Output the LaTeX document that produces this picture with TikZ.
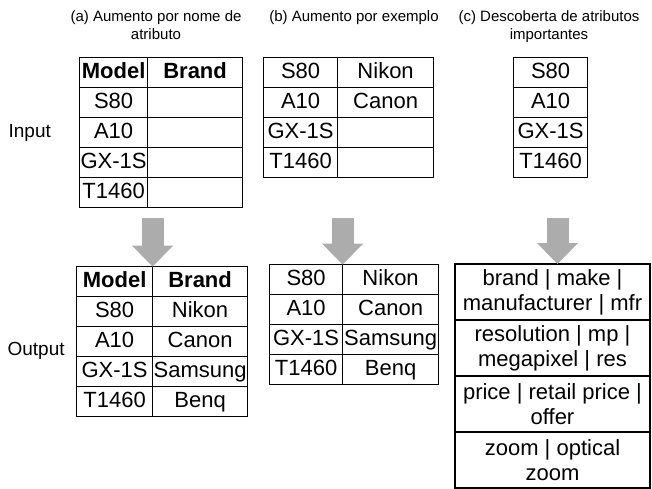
\documentclass[tikz,border=0pt]{standalone}
\usepackage{fontspec}
\setmainfont{Liberation Sans}
\usepackage{tikz}
\usetikzlibrary{matrix,arrows.meta,positioning}
\usepackage{xcolor}

\begin{document}
\begin{tikzpicture}[x=1pt,y=-1pt,line width=1.2pt,
		table/.style={matrix of nodes, nodes in empty cells, inner sep=0pt, outer sep=0pt,
			row sep=-\pgflinewidth, column sep=-\pgflinewidth, anchor=north west,
			nodes={draw, anchor=center, inner sep=0pt, font=\fontsize{22}{25}\selectfont,
				text height=16pt, text depth=5pt, minimum height=30pt}},
		head/.style={font=\fontsize{22}{25}\selectfont\bfseries},
		tall/.style={draw, align=center, inner sep=0pt, outer sep=0pt, minimum width=195pt,
			minimum height=56pt, font=\fontsize{22}{25}\selectfont},
		title/.style={align=center, anchor=north, inner sep=0pt, font=\fontsize{15}{18.5}\selectfont},
		side/.style={anchor=west, inner sep=0pt, font=\fontsize{19}{22}\selectfont},
		bigarrow/.style={line width=22pt, gray!65, -{Triangle[width=40pt,length=21pt]}}]
	\useasboundingbox (0,0) rectangle (652,489);
	\node[title] (titA) at (156,10) {(a) Aumento por nome de\\atributo};
	\node[title] (titB) at (354,10) {(b) Aumento por exemplo};
	\node[title] (titC) at (549,10) {(c) Descoberta de atributos\\importantes};
	\node[side] (input) at (8,133) {Input};
	\node[side] (output) at (7,351) {Output};
	\matrix (inA) [table, column 1/.style={nodes={minimum width=68pt}},
		column 2/.style={nodes={minimum width=95pt}}] at (79,57) {
		|[head]| Model & |[head]| Brand \\
		S80 & \\
		A10 & \\
		GX-1S & \\
		T1460 & \\
	};
	\matrix (inB) [table, column 1/.style={nodes={minimum width=74pt}},
		column 2/.style={nodes={minimum width=96pt}}] at (263,57) {
		S80 & Nikon \\
		A10 & Canon \\
		GX-1S & \\
		T1460 & \\
	};
	\matrix (inC) [table, nodes={minimum width=74pt}] at (513,57) {
		S80 \\
		A10 \\
		GX-1S \\
		T1460 \\
	};
	\matrix (outA) [table, column 1/.style={nodes={minimum width=76pt}},
		column 2/.style={nodes={minimum width=95pt}}] at (76,266) {
		|[head]| Model & |[head]| Brand \\
		S80 & Nikon \\
		A10 & Canon \\
		GX-1S & Samsung \\
		T1460 & Benq \\
	};
	\matrix (outB) [table, column 1/.style={nodes={minimum width=73pt}},
		column 2/.style={nodes={minimum width=96pt}}] at (269,264) {
		S80 & Nikon \\
		A10 & Canon \\
		GX-1S & Samsung \\
		T1460 & Benq \\
	};
	\node[tall, anchor=north west] (outC-1) at (455,264) {brand \textbar{} make \textbar\\manufacturer \textbar{} mfr};
	\node[tall, below=0pt of outC-1] (outC-2) {resolution \textbar{} mp \textbar\\megapixel \textbar{} res};
	\node[tall, below=0pt of outC-2] (outC-3) {price \textbar{} retail price \textbar\\offer};
	\node[tall, below=0pt of outC-3] (outC-4) {zoom \textbar{} optical\\zoom};
	\coordinate (top) at (0,218);
	\draw[bigarrow] (outA-1-1.north east |- top) -- (outA-1-1.north east);
	\draw[bigarrow] (outB-1-1.north east |- top) -- (outB-1-1.north east);
	\draw[bigarrow] ([xshift=5pt]outC-1.north |- top) -- ([xshift=5pt]outC-1.north);
\end{tikzpicture}
\end{document}
